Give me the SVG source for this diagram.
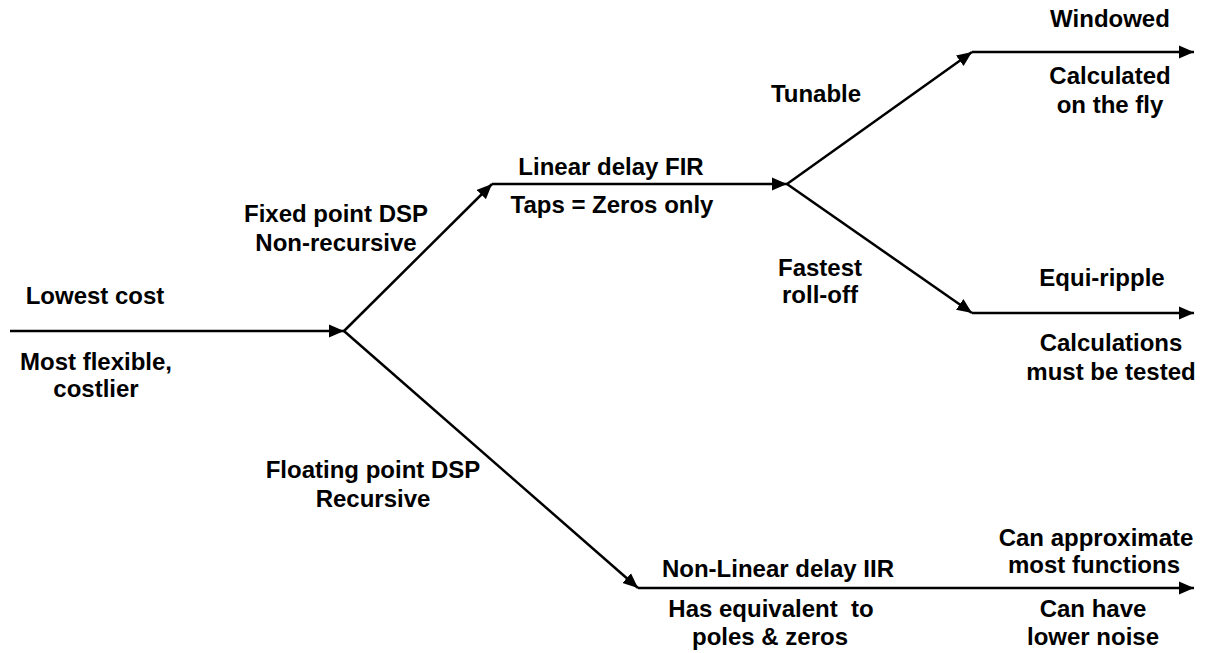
<svg xmlns="http://www.w3.org/2000/svg" width="1205" height="653" viewBox="0 0 1205 653">
<style>
text{font-family:"Liberation Sans",Arial,sans-serif;font-weight:bold;font-size:24px;fill:#000;text-anchor:middle;white-space:pre}
.c{stroke:#000;stroke-width:2.5;fill:none;marker-end:url(#ah)}
</style>
<defs>
<marker id="ah" markerUnits="userSpaceOnUse" markerWidth="16" markerHeight="14" refX="15" refY="7" orient="auto">
<path d="M0,0.5 L15,7 L0,13.5 z" fill="#000"/>
</marker>
</defs>
<rect width="1205" height="653" fill="#fff"/>
<g id="connectors">
<line class="c" x1="10" y1="331" x2="344" y2="331"/>
<line class="c" x1="344" y1="331" x2="492" y2="184"/>
<line class="c" x1="492" y1="184" x2="787" y2="184"/>
<line class="c" x1="787" y1="184" x2="972" y2="52"/>
<line class="c" x1="972" y1="52" x2="1194" y2="52"/>
<line class="c" x1="787" y1="184" x2="972" y2="313"/>
<line class="c" x1="972" y1="313" x2="1194" y2="313"/>
<line class="c" x1="344" y1="331" x2="638" y2="588"/>
<line class="c" x1="638" y1="588" x2="1194" y2="588"/>
</g>
<g id="start">
<text x="95" y="304">Lowest cost</text>
<text x="96" y="370">Most flexible,</text>
<text x="96" y="397">costlier</text>
</g>
<g id="fixed">
<text x="336" y="222">Fixed point DSP</text>
<text x="336" y="251">Non-recursive</text>
</g>
<g id="fir">
<text x="611" y="175">Linear delay FIR</text>
<text x="612" y="213">Taps = Zeros only</text>
</g>
<g id="tunable">
<text x="816" y="102">Tunable</text>
</g>
<g id="fastest">
<text x="820" y="276">Fastest</text>
<text x="820" y="303">roll-off</text>
</g>
<g id="windowed">
<text x="1110" y="27">Windowed</text>
<text x="1110" y="84">Calculated</text>
<text x="1110" y="113">on the fly</text>
</g>
<g id="equiripple">
<text x="1102" y="286">Equi-ripple</text>
<text x="1111" y="351">Calculations</text>
<text x="1111" y="380">must be tested</text>
</g>
<g id="floating">
<text x="373" y="478">Floating point DSP</text>
<text x="373" y="507">Recursive</text>
</g>
<g id="iir">
<text x="778" y="577">Non-Linear delay IIR</text>
<text x="771" y="617">Has equivalent  to</text>
<text x="770" y="645">poles &amp; zeros</text>
</g>
<g id="iirprops">
<text x="1096" y="546">Can approximate</text>
<text x="1094" y="573">most functions</text>
<text x="1093" y="617">Can have</text>
<text x="1093" y="645">lower noise</text>
</g>
</svg>
